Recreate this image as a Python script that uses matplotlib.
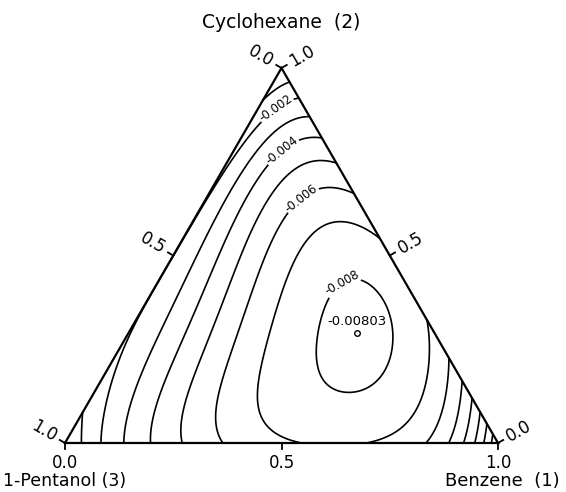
import numpy as np
import matplotlib
matplotlib.use("Agg")
import matplotlib.pyplot as plt
import matplotlib.tri as mtri

# contour levels of the ternary property
levels = [-0.008, -0.007, -0.006, -0.005, -0.004, -0.003, -0.002, -0.001]

# benzene (1) + 1-pentanol (3) edge: x1 and value
b13_x1 = [0.039, 0.085, 0.134, 0.194, 0.273, 0.367, 0.60, 0.838, 0.882, 0.919, 0.947, 0.968, 0.988]
b13_val = [-0.001, -0.002, -0.003, -0.004, -0.005, -0.006, -0.0071,
           -0.006, -0.005, -0.004, -0.003, -0.002, -0.001]

# benzene (1) + cyclohexane (2) edge: x2 and value
b12_x2 = [0.022, 0.05, 0.083, 0.12, 0.168, 0.229, 0.32, 0.42, 0.52,
          0.669, 0.749, 0.813, 0.869, 0.92, 0.963]
b12_val = [-0.001, -0.002, -0.003, -0.004, -0.005, -0.006, -0.007, -0.0074, -0.007,
           -0.006, -0.005, -0.004, -0.003, -0.002, -0.001]

# cyclohexane (2) + 1-pentanol (3) edge: x2 and value
b23_x2 = [0.08, 0.30, 0.50, 0.70, 0.909]
b23_val = [-0.001, -0.00195, -0.00195, -0.00195, -0.001]

# ternary minimum (x1, x2) and value
min_x1, min_x2 = 0.528, 0.293
min_val = -0.00803

# interior points on the closed contours
in_x1 = [0.4216, 0.6317, 0.430, 0.5913, 0.356, 0.305]
in_x2 = [0.2747, 0.2747, 0.456, 0.120, 0.2027, 0.568]
in_val = [-0.008, -0.008, -0.008, -0.008, -0.007, -0.007]


def rk_fit(xi, xj, val, deg):
    xi, xj, val = map(np.asarray, (xi, xj, val))
    A = np.column_stack([xi * xj * (xi - xj) ** k for k in range(deg + 1)])
    return np.linalg.lstsq(A, val, rcond=None)[0]


def rk_eval(c, xi, xj):
    return xi * xj * sum(ck * (xi - xj) ** k for k, ck in enumerate(c))


x1e = np.array(b13_x1)
c13 = rk_fit(x1e, 1 - x1e, b13_val, 4)
x2e = np.array(b12_x2)
c12 = rk_fit(1 - x2e, x2e, b12_val, 4)
x2l = np.array(b23_x2)
c23 = rk_fit(x2l, 1 - x2l, b23_val, 2)


def binary_part(x1, x2):
    x3 = 1 - x1 - x2
    return rk_eval(c13, x1, x3) + rk_eval(c12, x1, x2) + rk_eval(c23, x2, x3)


def tern_basis(x1, x2):
    x3 = 1 - x1 - x2
    t = x1 * x2 * x3
    return np.array([t, t * x1, t * x2, t * x1 ** 2, t * x1 * x2, t * x2 ** 2])


# ternary coefficients: value and zero gradient at the minimum, plus contour points
h = 1e-5
rows, rhs = [], []
rows.append(tern_basis(min_x1, min_x2))
rhs.append(min_val - binary_part(min_x1, min_x2))
for dx1, dx2 in [(h, 0), (0, h)]:
    db = (tern_basis(min_x1 + dx1, min_x2 + dx2) - tern_basis(min_x1 - dx1, min_x2 - dx2)) / (2 * h)
    dB = (binary_part(min_x1 + dx1, min_x2 + dx2) - binary_part(min_x1 - dx1, min_x2 - dx2)) / (2 * h)
    rows.append(db * 0.3)
    rhs.append(-dB * 0.3)
for a, b, v in zip(in_x1, in_x2, in_val):
    rows.append(tern_basis(a, b))
    rhs.append(v - binary_part(a, b))
dcoef = np.linalg.lstsq(np.array(rows), np.array(rhs), rcond=None)[0]


def prop(x1, x2):
    return binary_part(x1, x2) + dcoef @ tern_basis(x1, x2)


# triangular lattice over the composition triangle
n = 160
ii, jj = np.meshgrid(np.arange(n + 1), np.arange(n + 1))
mask = ii + jj <= n
x1g = ii[mask] / n
x2g = jj[mask] / n
H = np.sqrt(3) / 2
X = x1g + x2g / 2
Y = x2g * H
Z = prop(x1g, x2g)
tri = mtri.Triangulation(X, Y)

fig = plt.figure(figsize=(5.66, 4.92), dpi=100)
ax = fig.add_axes([0, 0, 1, 1])
ax.set_xlim(-65 / 433, 501 / 433)
ax.set_ylim(-49 / 433, 443 / 433)
ax.axis("off")

cs = ax.tricontour(tri, Z, levels=levels, colors="k", linewidths=1.2,
                   linestyles="solid")


def to_xy(px, py):
    return ((px - 65) / 433, (443 - py) / 433)


ax.clabel(cs, fmt="%.3f", fontsize=8.5, inline=True, inline_spacing=1,
          manual=[to_xy(333, 269), to_xy(298, 194), to_xy(280, 148), to_xy(275, 107)])

# minimum point
mx = min_x1 + min_x2 / 2
my = min_x2 * H
ax.plot(mx, my, "o", ms=4, mfc="white", mec="k", mew=1.0)
ax.text(mx, my + 0.012, "%.5f" % min_val, ha="center", va="bottom", fontsize=9.5)

# triangle frame
ax.plot([0, 1, 0.5, 0], [0, 0, H, 0], color="k", lw=1.6, solid_joinstyle="miter")

# ticks and tick labels
tl = 0.014
off = 24 / 433
cos30, sin30 = np.cos(np.pi / 6), 0.5
for t in [0.0, 0.5, 1.0]:
    lab = "%.1f" % t
    # benzene along the bottom
    ax.plot([t, t], [0, -tl], color="k", lw=1.3)
    ax.text(t, -0.047, lab, ha="center", va="center", fontsize=12)
    # cyclohexane along the right side
    px, py = 1 - t / 2, t * H
    ax.plot([px, px + tl * cos30], [py, py + tl * sin30], color="k", lw=1.3)
    ax.text(px + off * cos30, py + off * sin30, lab, ha="center", va="center",
            rotation=30, fontsize=12)
    # 1-pentanol along the left side
    px, py = (1 - t) / 2, (1 - t) * H
    ax.plot([px, px - tl * cos30], [py, py + tl * sin30], color="k", lw=1.3)
    ax.text(px - off * cos30, py + off * sin30, lab, ha="center", va="center",
            rotation=-30, fontsize=12)

ax.text(*to_xy(281, 22), "Cyclohexane  (2)", ha="center", va="center", fontsize=13.5)
ax.text(*to_xy(3, 481), "1-Pentanol (3)", ha="left", va="center", fontsize=12.5)
ax.text(*to_xy(560, 481), "Benzene  (1)", ha="right", va="center", fontsize=13)

fig.savefig("out.png", dpi=100)
